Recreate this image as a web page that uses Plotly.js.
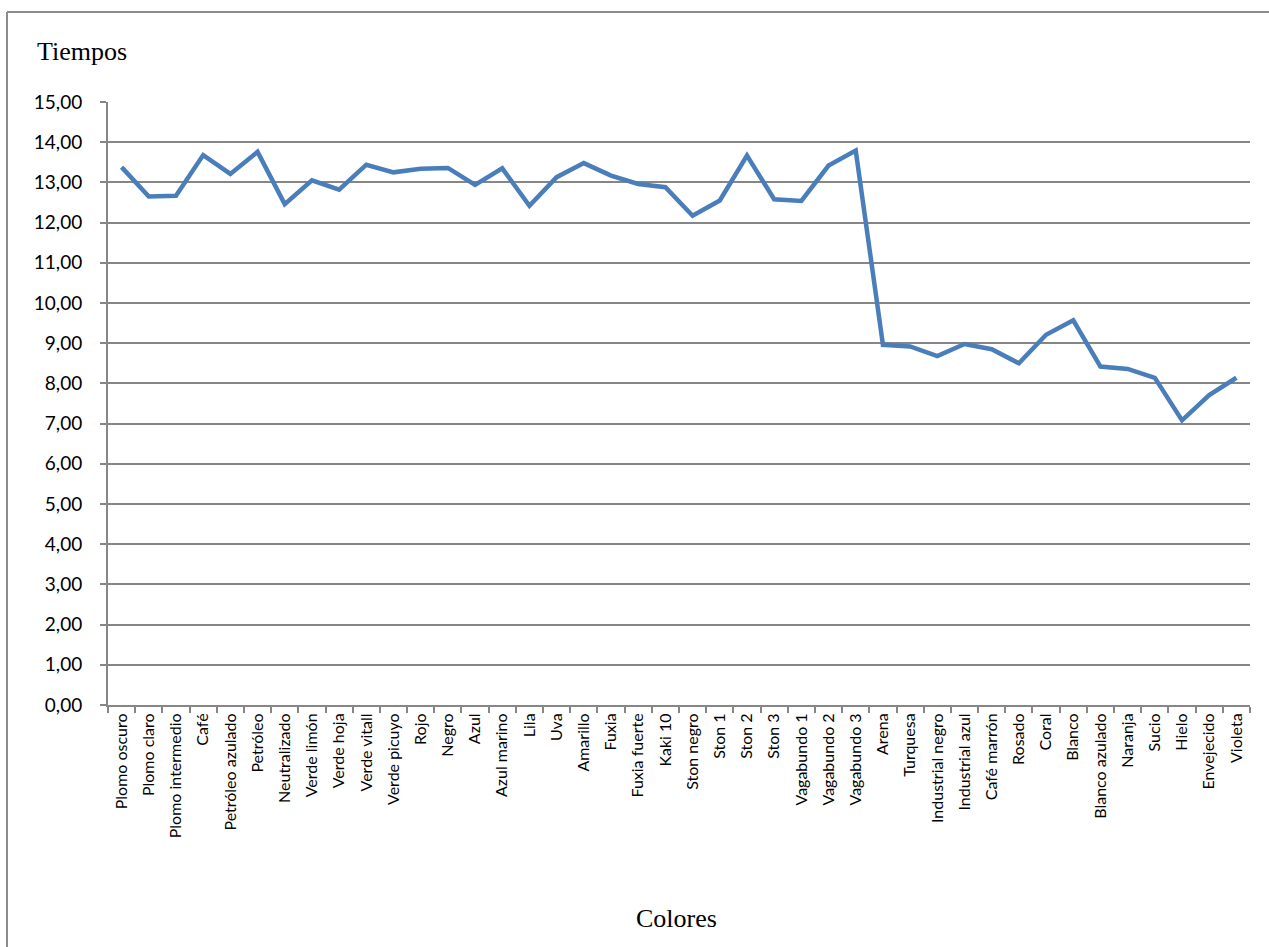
<!DOCTYPE html>
<html>
<head>
<meta charset="utf-8">
<script src="https://cdn.plot.ly/plotly-3.0.1.min.js"></script>
<style>
  html, body { margin: 0; padding: 0; background: #ffffff; }
  #chart { width: 1269px; height: 947px; }
</style>
</head>
<body>
<div id="chart"></div>
<script>
// Color names on the category axis
const colores = [
  "Plomo oscuro", "Plomo claro", "Plomo intermedio", "Café", "Petróleo azulado",
  "Petróleo", "Neutralizado", "Verde limón", "Verde hoja", "Verde vitall",
  "Verde picuyo", "Rojo", "Negro", "Azul", "Azul marino", "Lila", "Uva",
  "Amarillo", "Fuxia", "Fuxia fuerte", "Kaki 10", "Ston negro", "Ston 1",
  "Ston 2", "Ston 3", "Vagabundo 1", "Vagabundo 2", "Vagabundo 3", "Arena",
  "Turquesa", "Industrial negro", "Industrial azul", "Café marrón", "Rosado",
  "Coral", "Blanco", "Blanco azulado", "Naranja", "Sucio", "Hielo",
  "Envejecido", "Violeta"
];

// Time measured for each color
const tiempos = [
  13.38, 12.65, 12.67, 13.68, 13.21,
  13.76, 12.46, 13.05, 12.82, 13.44,
  13.25, 13.34, 13.36, 12.94, 13.35, 12.42, 13.13,
  13.48, 13.17, 12.96, 12.88, 12.17, 12.55,
  13.67, 12.58, 12.54, 13.42, 13.79, 8.96,
  8.92, 8.68, 8.98, 8.85, 8.50,
  9.21, 9.57, 8.42, 8.36, 8.14, 7.08,
  7.71, 8.14
];

const W = 1269, H = 947;
const M = { l: 108, r: 19, t: 102, b: 242 };
const pw = W - M.l - M.r, ph = H - M.t - M.b;
// pixel -> paper coordinates for the frame lines and titles
const px = x => (x - M.l) / pw;
const py = y => (H - M.b - y) / ph;

const gridColor = "#868686";
const sans = "Lato, 'Open Sans', sans-serif";
const serif = { family: "'Liberation Serif', 'Times New Roman', serif", size: 26, color: "#000000" };

const trace = {
  type: "scatter",
  mode: "lines",
  x: colores,
  y: tiempos,
  line: { color: "#4a7ebb", width: 4.5, shape: "linear" },
  hoverinfo: "x+y"
};

const layout = {
  width: W,
  height: H,
  margin: M,
  paper_bgcolor: "#ffffff",
  plot_bgcolor: "#ffffff",
  separators: ",.",
  showlegend: false,
  xaxis: {
    type: "category",
    range: [-0.5, colores.length - 0.5],
    tickangle: -90,
    tickfont: { family: sans, size: 16, color: "#000000" },
    ticks: "outside",
    tickson: "boundaries",
    ticklen: 6,
    tickwidth: 2,
    tickcolor: gridColor,
    showline: true,
    linecolor: gridColor,
    linewidth: 2,
    showgrid: false,
    zeroline: false,
    fixedrange: true,
    title: { text: "" }
  },
  yaxis: {
    range: [0, 15],
    dtick: 1,
    tick0: 0,
    tickformat: ".2f",
    tickfont: { family: sans, size: 19, color: "#000000" },
    ticks: "outside",
    ticklen: 6,
    tickwidth: 2,
    tickcolor: gridColor,
    ticklabelstandoff: 14,
    showline: true,
    linecolor: gridColor,
    linewidth: 2,
    showgrid: true,
    gridcolor: gridColor,
    gridwidth: 2,
    zeroline: false,
    fixedrange: true
  },
  annotations: [
    {
      text: "Tiempos",
      xref: "paper", yref: "paper",
      x: px(35), y: py(52),
      xanchor: "left", yanchor: "middle",
      showarrow: false,
      font: serif
    },
    {
      text: "Colores",
      xref: "paper", yref: "paper",
      x: px(676), y: py(918),
      xanchor: "center", yanchor: "middle",
      showarrow: false,
      font: serif
    }
  ],
  shapes: [
    {
      type: "line", xref: "paper", yref: "paper",
      x0: px(7), y0: py(12), x1: px(7), y1: py(H + 5),
      line: { color: "#8c8c8c", width: 2 }
    },
    {
      type: "line", xref: "paper", yref: "paper",
      x0: px(7), y0: py(12), x1: px(W + 5), y1: py(12),
      line: { color: "#8c8c8c", width: 2 }
    }
  ]
};

Plotly.newPlot("chart", [trace], layout, { displayModeBar: false, staticPlot: true });
</script>
</body>
</html>
